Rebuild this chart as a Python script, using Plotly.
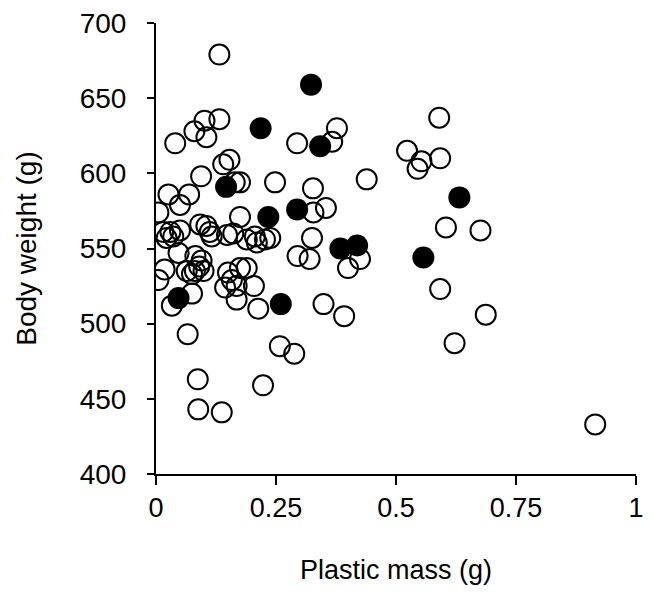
import plotly.graph_objects as go

# Open circles (plastic mass g, body weight g)
open_x = [0.132, 0.101, 0.080, 0.105, 0.132, 0.040, 0.294, 0.377, 0.367, 0.590,
          0.523, 0.553, 0.592, 0.545, 0.153, 0.140, 0.439, 0.164, 0.175, 0.094,
          0.248, 0.327, 0.026, 0.069, 0.050, 0.005, 0.328, 0.354, 0.175, 0.092,
          0.105, 0.112, 0.116, 0.015, 0.030, 0.050, 0.022, 0.036, 0.148, 0.161,
          0.189, 0.206, 0.227, 0.210, 0.238, 0.325, 0.604, 0.676, 0.295, 0.320,
          0.400, 0.425, 0.047, 0.082, 0.095, 0.090, 0.081, 0.099, 0.064, 0.075,
          0.018, 0.005, 0.150, 0.175, 0.189, 0.158, 0.168, 0.144, 0.204, 0.033,
          0.075, 0.168, 0.213, 0.349, 0.392, 0.592, 0.687, 0.622, 0.066, 0.258,
          0.288, 0.087, 0.223, 0.088, 0.137, 0.915]
open_y = [679, 635, 628, 624, 636, 620, 620, 630, 621, 637,
          615, 608, 610, 603, 609, 606, 596, 594, 594, 598,
          594, 590, 586, 586, 579, 574, 574, 577, 571, 566,
          565, 561, 558, 561, 561, 562, 557, 558, 559, 560,
          556, 558, 556, 554, 557, 557, 564, 562, 545, 543,
          537, 543, 547, 545, 542, 538, 535, 535, 535, 533,
          536, 529, 534, 537, 537, 529, 525, 524, 525, 512,
          520, 516, 510, 513, 505, 523, 506, 487, 493, 485,
          480, 463, 459, 443, 441, 433]

# Filled circles
fill_x = [0.323, 0.218, 0.342, 0.146, 0.632, 0.234, 0.294, 0.384, 0.419, 0.557, 0.047, 0.260]
fill_y = [659, 630, 618, 591, 584, 571, 576, 550, 552, 544, 517, 513]

x_tickvals = [0, 0.25, 0.5, 0.75, 1]
x_ticktext = ["0", "0.25", "0.5", "0.75", "1"]
y_tickvals = [400, 450, 500, 550, 600, 650, 700]

FONT = "Liberation Sans, Arial, sans-serif"

fig = go.Figure()
fig.add_trace(go.Scatter(
    x=fill_x, y=fill_y, mode="markers",
    marker=dict(symbol="circle", size=22, color="black", line=dict(width=0)),
    showlegend=False, hoverinfo="skip"))
fig.add_trace(go.Scatter(
    x=open_x, y=open_y, mode="markers",
    marker=dict(symbol="circle-open", size=20, color="black", line=dict(width=2)),
    showlegend=False, hoverinfo="skip"))

fig.update_layout(
    width=654, height=594,
    margin=dict(l=156, r=18, t=23, b=120, autoexpand=False),
    paper_bgcolor="white", plot_bgcolor="white",
    font=dict(family=FONT, size=27, color="black"),
)
fig.update_xaxes(
    range=[0, 1], tickvals=x_tickvals, ticktext=x_ticktext,
    showgrid=False, zeroline=False, showline=True, linecolor="black", linewidth=2,
    ticks="outside", ticklen=9, tickwidth=2, tickcolor="black",
    tickfont=dict(family=FONT, size=27, color="black"),
    title=dict(text="Plastic mass (g)", font=dict(family=FONT, size=27, color="black"), standoff=38),
    automargin=False, fixedrange=True,
)
fig.update_yaxes(
    range=[400, 700], tickvals=y_tickvals,
    showgrid=False, zeroline=False, showline=True, linecolor="black", linewidth=2,
    ticks="outside", ticklen=7, tickwidth=2, tickcolor="black",
    ticklabelstandoff=15,
    tickfont=dict(family=FONT, size=28, color="black"),
    title=dict(text="Body weight (g)", font=dict(family=FONT, size=28, color="black"), standoff=35),
    automargin=False, fixedrange=True,
)

fig.write_html("out.html", config={"displayModeBar": False})
